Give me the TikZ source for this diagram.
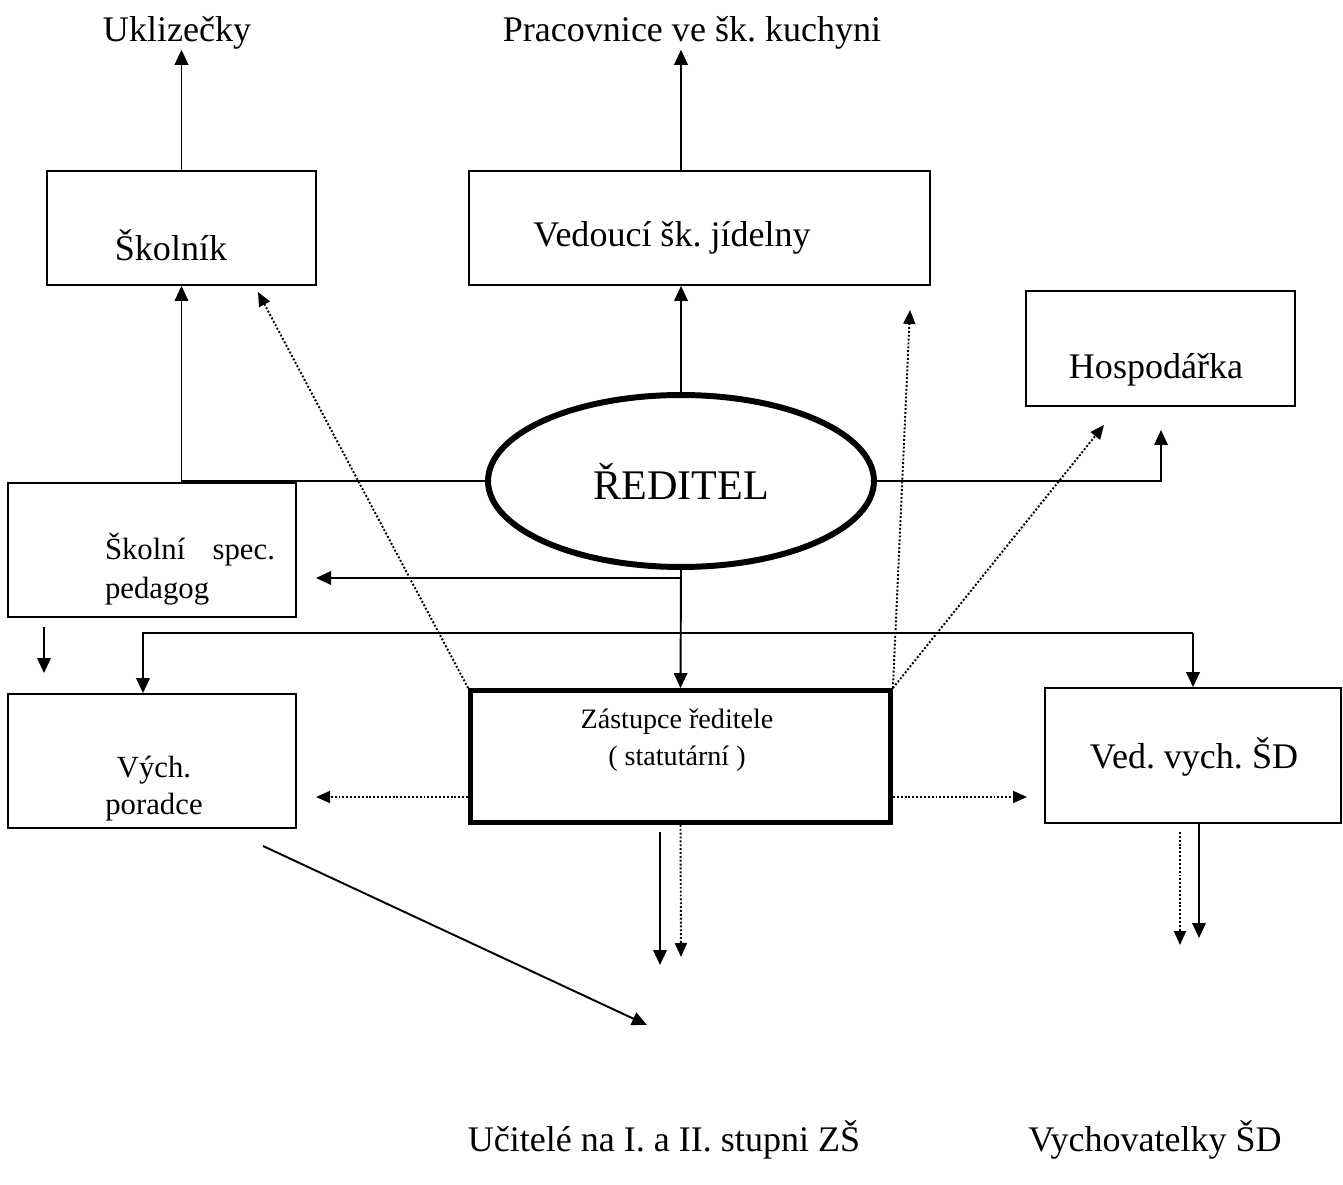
\documentclass[tikz,border=0pt]{standalone}
\usepackage{fontspec}
\setmainfont{Liberation Serif}
\frenchspacing
\usetikzlibrary{positioning,shapes.geometric,arrows.meta}

\begin{document}
\begin{tikzpicture}[x=0.02cm,y=-0.02cm,
    box/.style={draw,line width=1pt,inner sep=0pt},
    lbl/.style={inner sep=0pt,font=\fontsize{20.5}{24}\selectfont},
    small/.style={inner sep=0pt,align=center,font=\fontsize{17.5}{21}\selectfont},
    arr/.style={line width=1.1pt,-{Triangle[length=0.3cm,width=0.27cm]}},
    dots/.style={line width=1.1pt,dash pattern=on 1.1pt off 1.1pt,-{Triangle[length=0.28cm,width=0.24cm]}}]
    \useasboundingbox (0,0) rectangle (1343,1185);
    % Vedeni
    \node[draw,ellipse,line width=3.4pt,minimum width=7.72cm,minimum height=3.44cm,
          font=\fontsize{24}{28}\selectfont] (reditel) at (681,481) {ŘEDITEL};
    \node[draw,line width=2.8pt,minimum width=8.4cm,minimum height=2.64cm,inner sep=0pt] (zast) at (680.5,756.5) {};
    \node[small,font=\fontsize{16}{21}\selectfont] (zast-t) at (677,740) {Zástupce ředitele\\( statutární )};
    % Horni rada
    \node[box,minimum width=5.38cm,minimum height=2.28cm] (skolnik) at (181.5,228) {};
    \node[lbl] (skolnik-t) at (171,245) {Školník};
    \node[box,minimum width=9.22cm,minimum height=2.28cm] (jidelna) at (699.5,228) {};
    \node[lbl] (jidelna-t) at (672,238) {Vedoucí šk. jídelny};
    \node[box,minimum width=5.38cm,minimum height=2.3cm] (hosp) at (1160.5,348.5) {};
    \node[lbl] (hosp-t) at (1156,370) {Hospodářka};
    \node[lbl] (uklid) at (177,33) {Uklizečky};
    \node[lbl] (kuchyne) at (692,33) {Pracovnice ve šk. kuchyni};
    % Leva strana
    \node[box,minimum width=5.76cm,minimum height=2.68cm] (spec) at (152,550) {};
    \node[small,align=left,font=\fontsize{17.5}{22.5}\selectfont] (spec-t) at (190,569)
        {\makebox[3.4cm][s]{Školní spec.}\\pedagog};
    \node[box,minimum width=5.76cm,minimum height=2.68cm] (poradce) at (152,761) {};
    \node[small] (poradce-t) at (154,789) {Vých.\\ poradce};
    % Prava strana
    \node[box,minimum width=5.92cm,minimum height=2.7cm] (sd) at (1193,755.5) {};
    \node[lbl] (sd-t) at (1194,757) {Ved. vych. ŠD};
    % Dole
    \node[lbl] (ucitele) at (664,1140) {Učitelé na I. a II. stupni ZŠ};
    \node[lbl] (vychov) at (1155,1140) {Vychovatelky ŠD};

    % volne konce sipek
    \coordinate (hosp-in) at (1161,430);
    \coordinate (spec-in) at (316,578);
    \coordinate (rail-l) at (143,633);
    \coordinate (rail-r) at (1193,633);
    \coordinate (spec-a) at (44,627);
    \coordinate (spec-b) at (44,673);
    \coordinate (skolnik-d) at (258,292);
    \coordinate (jidelna-d) at (910,310);
    \coordinate (hosp-d) at (1104,425);
    \coordinate (zast-l) at (468,797);
    \coordinate (poradce-in) at (316,797);
    \coordinate (zast-r) at (893,797);
    \coordinate (sd-in) at (1027,797);
    \coordinate (ucit-a) at (660,832);
    \coordinate (ucit-b) at (660,965);
    \coordinate (ucit-c) at (681,957);
    \coordinate (vych-a) at (1180,832);
    \coordinate (vych-b) at (1180,945);
    \coordinate (vych-c) at (1199,938);
    \coordinate (por-a) at (263,846);
    \coordinate (por-b) at (647,1025);

    % plne sipky
    \draw[arr] (skolnik.north) -- (skolnik.north |- uklid.south);
    \draw[arr] (reditel.north |- jidelna.north) -- (reditel.north |- kuchyne.south);
    \draw[arr] (reditel.west) -| (skolnik.south);
    \draw[arr] (reditel.north) -- (reditel.north |- jidelna.south);
    \draw[arr] (reditel.east) -| (hosp-in);
    \draw[arr] (reditel.south) -- (zast.north);
    \draw[arr] (spec-in -| reditel.south) -- (spec-in);
    \draw[arr] (rail-r) -- (rail-l) -- (rail-l |- poradce.north);
    \draw[arr] (rail-r) -- (sd.north);
    \draw[arr] (spec-a) -- (spec-b);
    \draw[arr] (ucit-a) -- (ucit-b);
    \draw[arr] (vych-c |- sd.south) -- (vych-c);
    \draw[arr] (por-a) -- (por-b);

    % teckovane sipky
    \draw[dots] (zast.north west) -- (skolnik-d);
    \draw[dots] (zast.north east) -- (jidelna-d);
    \draw[dots] (zast.north east) -- (hosp-d);
    \draw[dots] (zast-l) -- (poradce-in);
    \draw[dots] (zast-r) -- (sd-in);
    \draw[dots] (zast.south) -- (ucit-c);
    \draw[dots] (vych-a) -- (vych-b);
\end{tikzpicture}
\end{document}
